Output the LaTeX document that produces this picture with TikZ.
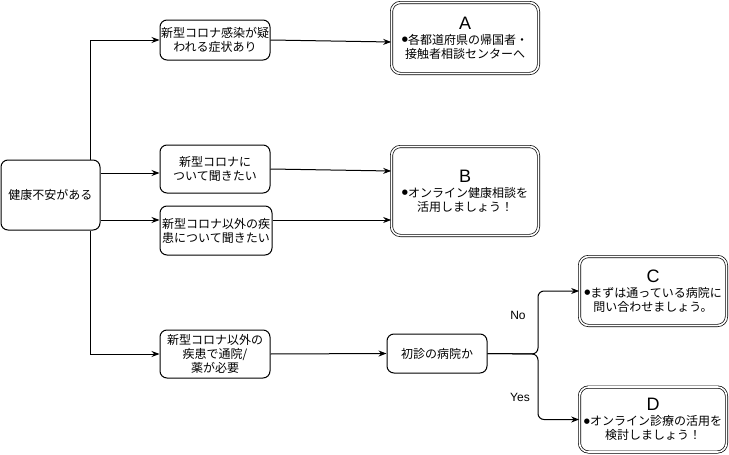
\documentclass[tikz,border=0pt]{standalone}
\usepackage{fontspec}
\setmainfont{Liberation Sans}
\newfontfamily\jp{Noto Sans CJK JP}
\newfontfamily\dvs{DejaVu Sans}
\usetikzlibrary{arrows.meta}
\newcommand{\bul}{\raisebox{2.5pt}{\dvs\fontsize{7}{14}\selectfont ●}}
\newcommand{\ltr}[1]{{\fontspec{Liberation Sans}\fontsize{18}{18}\selectfont #1}}
\begin{document}
\begin{tikzpicture}[x=1pt,y=-1pt,
  box/.style={draw, line width=1pt, rounded corners=7pt, align=center, inner sep=0pt,
    font=\jp\fontsize{12}{14}\selectfont},
  dbl/.style={draw, line width=0.7pt, double, double distance=1.6pt, rounded corners=9pt,
    align=center, inner sep=0pt, font=\jp\fontsize{12}{14}\selectfont},
  arr/.style={line width=1pt, -{Stealth[length=8pt,width=6pt]}},
  lbl/.style={font=\fontsize{12}{14}\selectfont, inner sep=0pt}]
\useasboundingbox (0,0) rectangle (729,455);
\fill[white] (0,0) rectangle (729,455);
% nodes
\node[box, minimum width=99pt, minimum height=70pt] (s) at (50.5,195) {健康不安がある};
\node[box, minimum width=110pt, minimum height=40pt] (b1) at (215,40) {新型コロナ感染が疑\\われる症状あり};
\node[box, minimum width=110pt, minimum height=48pt] (b2) at (215,169) {新型コロナに\\ついて聞きたい};
\node[box, minimum width=112pt, minimum height=49pt] (b3) at (216,230.5) {新型コロナ以外の疾\\患について聞きたい};
\node[box, minimum width=110pt, minimum height=48pt] (b4) at (215,354) {新型コロナ以外の\\疾患で通院/\\薬が必要};
\node[box, minimum width=100pt, minimum height=39pt] (q) at (437,353.5) {初診の病院か};
\node[dbl, minimum width=147pt, minimum height=71pt] (A) at (465,38) {\ltr{A}\\[1pt]\bul 各都道府県の帰国者・\\接触者相談センターへ};
\node[dbl, minimum width=147pt, minimum height=89pt] (B) at (465,191) {\ltr{B}\\[1pt]\bul オンライン健康相談を\\活用しましょう！};
\node[dbl, minimum width=147pt, minimum height=69pt] (C) at (653,291) {\ltr{C}\\[1pt]\bul まずは通っている病院に\\問い合わせましょう。};
\node[dbl, minimum width=147pt, minimum height=65pt] (D) at (653,419.5) {\ltr{D}\\[1pt]\bul オンライン診療の活用を\\検討しましょう！};
\node[lbl] (no) at (518,315) {No};
\node[lbl] (yes) at (520,397) {Yes};
\coordinate (j) at (538,354);
% connectors
\draw[arr] ([xshift=40pt]s.north) |- (b1.west);
\draw[arr] ([xshift=40pt]s.south) |- (b4.west);
\draw[arr] ([yshift=22pt]s.east) -- ([yshift=22pt]s.east -| b2.west);
\draw[arr] ([yshift=-25pt]s.east) -- ([yshift=-25pt]s.east -| b3.west);
\draw[arr] (b1.east) -- ([yshift=-4pt]A.west);
\draw[arr] (b2.east) -- ([yshift=-2pt]b2.east -| B.west);
\draw[arr] ([yshift=10.5pt]b3.east) -- ([yshift=10.5pt]b3.east -| B.west);
\draw[arr] (b4.east) -- (q.west);
\draw[arr, rounded corners=6pt] (q.east) -- (j) |- (C.west);
\draw[arr, rounded corners=6pt] (q.east) -- (j) |- (D.west);
\end{tikzpicture}
\end{document}
